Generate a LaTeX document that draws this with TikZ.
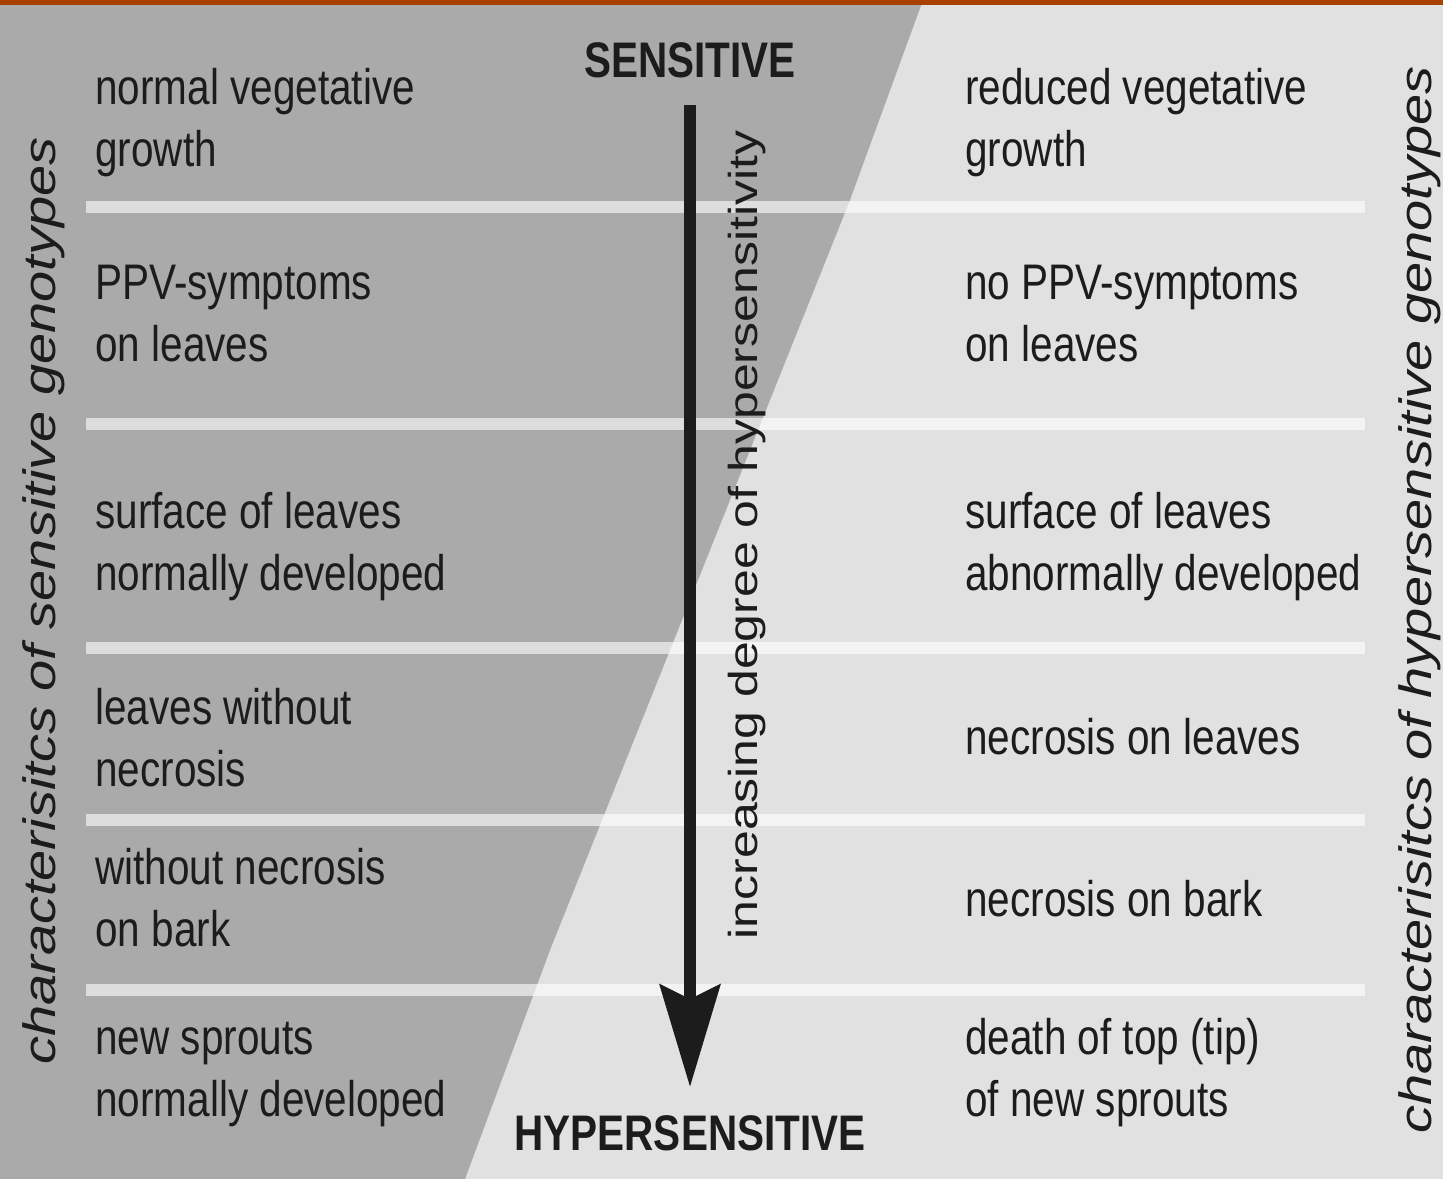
\documentclass[tikz,border=0pt]{standalone}
\usepackage{fontspec}
\setmainfont{Liberation Sans}[FakeStretch=0.81]
\newfontfamily\vfont{Liberation Sans}
\usetikzlibrary{arrows.meta}
\definecolor{darkgr}{HTML}{AAAAAA}
\definecolor{lightgr}{HTML}{E1E1E1}
\definecolor{topbar}{HTML}{A84000}
\definecolor{ink}{HTML}{1C1C1C}
\begin{document}
\begin{tikzpicture}[x=0.02cm,y=-0.02cm,
  cell/.style={anchor=west, align=left, inner sep=0pt, text=ink, font=\fontsize{28.45}{35.28}\selectfont},
  title/.style={inner sep=0pt, text=ink, font=\fontsize{28.45}{35.28}\selectfont\bfseries},
  vlabel/.style={inner sep=0pt, text=ink, rotate=90, transform shape},
  sepline/.style={white, opacity=0.6, line width=0.24cm}]
\useasboundingbox (0,0) rectangle (1443,1179);
\fill[lightgr] (0,0) rectangle (1443,1179);
\fill[darkgr] (0,0) -- (923,0) -- (850,200) -- (550,950) -- (465,1179) -- (0,1179) -- cycle;
\fill[topbar] (0,0) rectangle (1443,5);
\foreach \yy in {207,424,648,820,990} \draw[sepline] (86,\yy) -- (1365,\yy);
% left column
\node[cell] (l1) at (95,123) {\strut normal vegetative\\growth\strut};
\node[cell] (l2) at (95,318) {\strut PPV-symptoms\\on leaves\strut};
\node[cell] (l3) at (95,547) {\strut surface of leaves\\normally developed\strut};
\node[cell] (l4) at (95,743) {\strut leaves without\\necrosis\strut};
\node[cell] (l5) at (95,903) {\strut without necrosis\\on bark\strut};
\node[cell] (l6) at (95,1073) {\strut new sprouts\\normally developed\strut};
% right column
\node[cell] (r1) at (965,123) {\strut reduced vegetative\\growth\strut};
\node[cell] (r2) at (965,318) {\strut no PPV-symptoms\\on leaves\strut};
\node[cell] (r3) at (965,547) {\strut surface of leaves\\abnormally developed\strut};
\node[cell] (r4) at (965,742) {\strut necrosis on leaves};
\node[cell] (r5) at (965,904) {\strut necrosis on bark};
\node[cell] (r6) at (965,1073) {\strut death of top (tip)\\of new sprouts\strut};
% titles and arrow
\node[title] (sens) at (690,60) {SENSITIVE};
\node[title] (hyp) at (690,1133) {HYPERSENSITIVE};
\draw[line width=0.24cm, ink, shorten <=0.54cm, shorten >=0.56cm,
  -{Stealth[length=58pt,width=34pt,inset=8pt]}] (sens.south) -- (hyp.north);
% vertical labels
\begin{scope}[shift={(44,601)}, xscale=0.81]
\node[vlabel, font=\vfont\itshape\fontsize{31.87}{38}\selectfont] (lv) at (0,0) {characterisitcs of sensitive genotypes};
\end{scope}
\begin{scope}[shift={(1420,600)}, xscale=0.81]
\node[vlabel, font=\vfont\itshape\fontsize{31.87}{38}\selectfont] (rv) at (0,0) {characterisitcs of hypersensitive genotypes};
\end{scope}
\begin{scope}[shift={(747,535)}, xscale=0.81]
\node[vlabel, font=\vfont\fontsize{28.45}{35}\selectfont] (mv) at (0,0) {increasing degree of hypersensitivity};
\end{scope}
\end{tikzpicture}
\end{document}
